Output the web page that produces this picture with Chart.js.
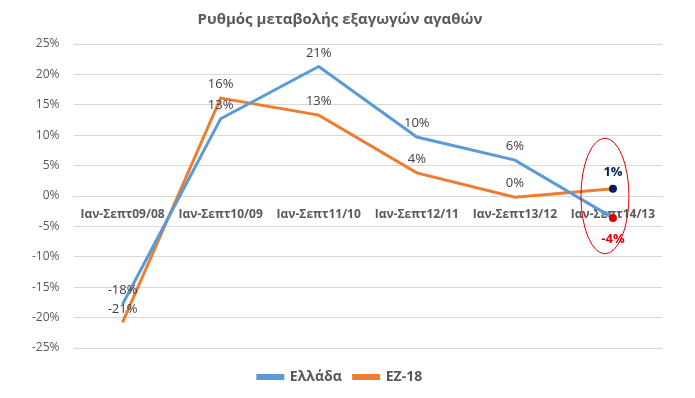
<!DOCTYPE html>
<html>
<head>
<meta charset="utf-8">
<script src="https://cdn.jsdelivr.net/npm/chart.js@4"></script>
<style>
  html, body { margin: 0; padding: 0; background: #fff; }
  #wrap { width: 695px; height: 398px; }
</style>
</head>
<body>
<div id="wrap"><canvas id="chart"></canvas></div>
<script>
const periods = ['Ιαν-Σεπτ09/08', 'Ιαν-Σεπτ10/09', 'Ιαν-Σεπτ11/10', 'Ιαν-Σεπτ12/11', 'Ιαν-Σεπτ13/12', 'Ιαν-Σεπτ14/13'];
const greece = [-17.8, 12.7, 21.3, 9.7, 5.9, -3.6];
const ez18 = [-20.8, 16.1, 13.3, 3.8, -0.2, 1.2];
const yTicks = [25, 20, 15, 10, 5, 0, -5, -10, -15, -20, -25];

const FONT = '"Open Sans", "Noto Sans", sans-serif';
const GREY = '#595959';

// value labels above each point, last points highlighted
const labelPlugin = {
    id: 'valueLabels',
    afterLayout(chart) {
        // push the legend a bit lower, like the original
        chart.legend.top += 10;
        chart.legend.bottom += 10;
    },
    afterDatasetsDraw(chart) {
        const ctx = chart.ctx;
        ctx.save();
        ctx.textAlign = 'center';
        chart.data.datasets.forEach((ds, i) => {
            const meta = chart.getDatasetMeta(i);
            meta.data.forEach((pt, j) => {
                const txt = Math.round(ds.data[j]) + '%';
                const last = j === ds.data.length - 1;
                if (last) {
                    ctx.font = 'bold 13px ' + FONT;
                    if (i === 0) {
                        ctx.fillStyle = '#e00000';
                        ctx.textBaseline = 'top';
                        ctx.fillText(txt, pt.x, pt.y + 15);
                    } else {
                        ctx.fillStyle = '#002060';
                        ctx.textBaseline = 'bottom';
                        ctx.fillText(txt, pt.x, pt.y - 10);
                    }
                } else {
                    ctx.font = '13px ' + FONT;
                    ctx.fillStyle = '#404040';
                    ctx.textBaseline = 'bottom';
                    ctx.fillText(txt, pt.x, pt.y - 7);
                }
            });
        });
        // red ellipse around the last period
        const xs = chart.scales.x, ys = chart.scales.y;
        const cx = xs.getPixelForValue(periods.length - 1) - 8;
        const cy = ys.getPixelForValue(0);
        const ry = (ys.getPixelForValue(-9.5) - ys.getPixelForValue(9.5)) / 2;
        ctx.beginPath();
        ctx.ellipse(cx, cy, 24, ry, 0, 0, Math.PI * 2);
        ctx.strokeStyle = '#e00000';
        ctx.lineWidth = 1;
        ctx.stroke();
        ctx.restore();
    }
};

function lastOnly(arr, v, other) {
    return arr.map((_, i) => i === arr.length - 1 ? v : other);
}

new Chart(document.getElementById('chart'), {
    type: 'line',
    data: {
        labels: periods,
        datasets: [
            {
                label: 'Ελλάδα',
                data: greece,
                borderColor: '#5b9bd5',
                backgroundColor: '#5b9bd5',
                borderWidth: 3,
                tension: 0,
                pointRadius: lastOnly(greece, 4, 0),
                pointBackgroundColor: '#e00000',
                pointBorderColor: '#e00000',
                pointBorderWidth: 0
            },
            {
                label: 'EZ-18',
                data: ez18,
                borderColor: '#ed7d31',
                backgroundColor: '#ed7d31',
                borderWidth: 3,
                tension: 0,
                pointRadius: lastOnly(ez18, 4, 0),
                pointBackgroundColor: '#002060',
                pointBorderColor: '#002060',
                pointBorderWidth: 0
            }
        ]
    },
    options: {
        responsive: true,
        maintainAspectRatio: false,
        animation: false,
        layout: { padding: { left: 18, right: 33, top: 0, bottom: 14 } },
        scales: {
            x: {
                position: { y: 0 },
                offset: true,
                grid: { display: false, drawTicks: false },
                border: { color: '#d9d9d9' },
                ticks: {
                    color: GREY,
                    padding: 11,
                    maxRotation: 0,
                    autoSkip: false,
                    font: { family: FONT, size: 12, weight: 'bold' }
                }
            },
            y: {
                min: -25,
                max: 25,
                afterBuildTicks: axis => { axis.ticks = yTicks.map(v => ({ value: v })); },
                grid: { color: '#d9d9d9', drawTicks: false },
                border: { display: false },
                ticks: {
                    color: GREY,
                    padding: 14,
                    font: { family: FONT, size: 12 },
                    callback: v => v + '%'
                }
            }
        },
        plugins: {
            title: {
                display: true,
                text: 'Ρυθμός μεταβολής εξαγωγών αγαθών',
                color: GREY,
                font: { family: FONT, size: 15, weight: 'bold' },
                padding: { top: 11, bottom: 15 }
            },
            legend: {
                position: 'bottom',
                labels: {
                    color: GREY,
                    boxWidth: 25,
                    boxHeight: 3,
                    padding: 12,
                    font: { family: FONT, size: 14, weight: 'bold' }
                }
            },
            tooltip: { enabled: false }
        }
    },
    plugins: [labelPlugin]
});
</script>
</body>
</html>
